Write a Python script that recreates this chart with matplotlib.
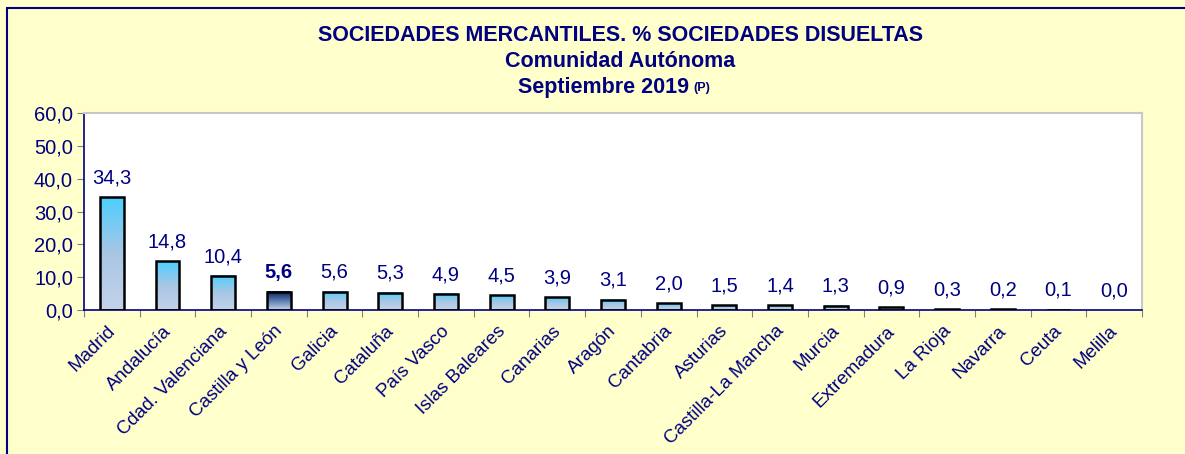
import numpy as np
import matplotlib.pyplot as plt
import matplotlib.transforms as mtransforms
from matplotlib.colors import LinearSegmentedColormap
from matplotlib.patches import Rectangle

plt.rcParams['font.family'] = ['Liberation Sans', 'DejaVu Sans']

regions = ['Madrid', 'Andalucía', 'Cdad. Valenciana', 'Castilla y León', 'Galicia',
           'Cataluña', 'País Vasco', 'Islas Baleares', 'Canarias', 'Aragón',
           'Cantabria', 'Asturias', 'Castilla-La Mancha', 'Murcia', 'Extremadura',
           'La Rioja', 'Navarra', 'Ceuta', 'Melilla']
pct = [34.3, 14.8, 10.4, 5.6, 5.6, 5.3, 4.9, 4.5, 3.9, 3.1,
       2.0, 1.5, 1.4, 1.3, 0.9, 0.3, 0.2, 0.1, 0.0]
highlight = 'Castilla y León'

navy = '#000080'
bg = '#FFFFCC'
W, H = 1185, 454

fig = plt.figure(figsize=(W / 100, H / 100), dpi=100)
fig.patch.set_facecolor(bg)
# outer frame (continues past the right and bottom edges)
fig.patches.append(Rectangle((7 / W, -0.1), 1.2, (H - 8) / H + 0.1,
                             transform=fig.transFigure, fill=False,
                             edgecolor=navy, linewidth=1.5))

ax = fig.add_axes([84 / W, 1 - 310 / H, (1142 - 84) / W, (310 - 113) / H])
ax.set_facecolor('white')

normal = LinearSegmentedColormap.from_list('n', ['#C4D2EA', '#A8C6E4', '#4ECFFF'])
dark = LinearSegmentedColormap.from_list('d', ['#C4D2EA', '#5A7AB0', '#0A1E5A'])
grad = np.linspace(0, 1, 100).reshape(-1, 1)

x = np.arange(len(regions))
w = 0.43
for xi, v, name in zip(x, pct, regions):
    cmap = dark if name == highlight else normal
    if v > 0:
        ax.imshow(grad, cmap=cmap, origin='lower', aspect='auto',
                  extent=[xi - w / 2, xi + w / 2, 0, v], zorder=2)
        ax.add_patch(Rectangle((xi - w / 2, 0), w, v, fill=False,
                               edgecolor='black', linewidth=1.8, zorder=3))
    lbl = f'{v:.1f}'.replace('.', ',')
    ax.text(xi, v + 3.0, lbl, ha='center', va='bottom', color=navy,
            fontsize=14.5, fontweight='bold' if name == highlight else 'normal')

ax.set_xlim(-0.5, len(regions) - 0.5)
ax.set_ylim(0, 60)
yt = np.arange(0, 61, 10)
ax.set_yticks(yt)
ax.set_yticklabels([f'{t:.1f}'.replace('.', ',') for t in yt], color=navy, fontsize=14.5)
ax.set_xticks(np.arange(-0.5, len(regions), 1))
ax.set_xticklabels([])
ax.set_xticks(x, minor=True)
ax.set_xticklabels(regions, minor=True, rotation=45, ha='right', va='top',
                   rotation_mode='anchor', color=navy, fontsize=13.5)
ax.tick_params(axis='x', which='minor', length=0, pad=9)
ax.tick_params(axis='x', which='major', length=5, color='#808080')
ax.tick_params(axis='y', length=5, color='#808080', pad=3)

# nudge the rotated labels so their ends sit under the bar centres
shift = mtransforms.ScaledTranslation(-5 / 100, 0, fig.dpi_scale_trans)
for lab in ax.get_xticklabels(minor=True):
    lab.set_transform(lab.get_transform() + shift)

for s in ['left', 'bottom']:
    ax.spines[s].set_color(navy)
    ax.spines[s].set_linewidth(1.2)
for s in ['top', 'right']:
    ax.spines[s].set_color('#C8C8C8')
    ax.spines[s].set_linewidth(1.5)

fig.text(620 / W, 1 - 41 / H, 'SOCIEDADES MERCANTILES. % SOCIEDADES DISUELTAS',
         ha='center', va='baseline', color=navy, fontsize=15.5, fontweight='bold')
fig.text(620 / W, 1 - 67 / H, 'Comunidad Autónoma',
         ha='center', va='baseline', color=navy, fontsize=15.5, fontweight='bold')
fig.text(689 / W, 1 - 93 / H, 'Septiembre 2019',
         ha='right', va='baseline', color=navy, fontsize=15.5, fontweight='bold')
fig.text(693 / W, 1 - 91 / H, '(P)',
         ha='left', va='baseline', color=navy, fontsize=9, fontweight='bold')

fig.savefig('out.png', dpi=100, facecolor=bg)
